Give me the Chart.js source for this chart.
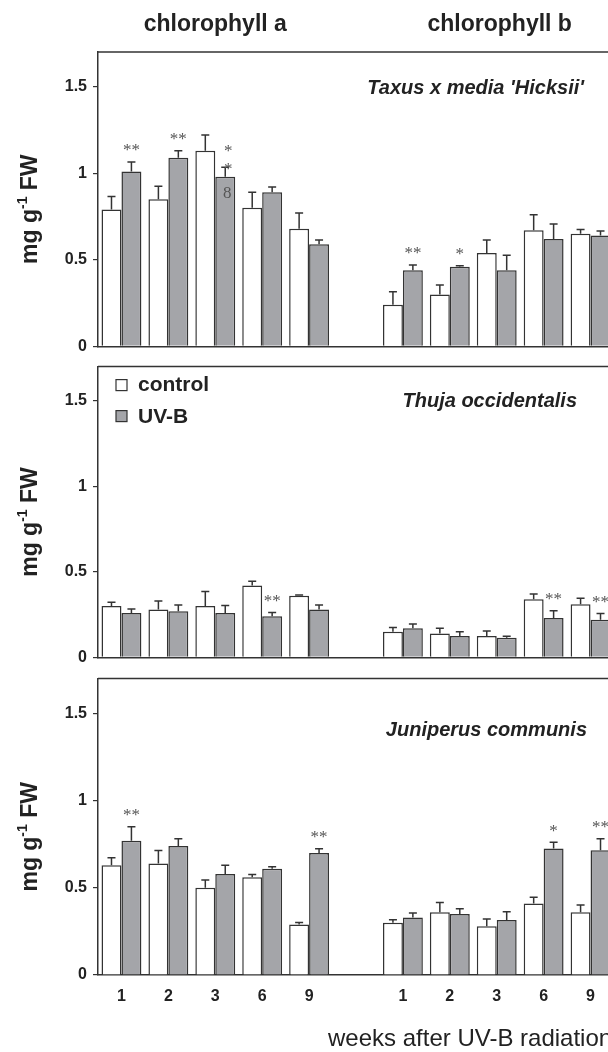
<!doctype html>
<html lang="en">
<head>
<meta charset="utf-8">
<title>Chlorophyll a and b after UV-B radiation</title>
<script src="https://cdn.jsdelivr.net/npm/chart.js"></script>
<style>
  html, body { margin: 0; padding: 0; background: #fff; }
  #wrap { position: relative; width: 608px; height: 1052px; overflow: hidden; }
  #wrap canvas { position: absolute; left: 0; }
</style>
</head>
<body>
<div id="wrap">
  <canvas id="taxus" width="614" height="362" style="top:0px"></canvas>
  <canvas id="thuja" width="614" height="322" style="top:351px"></canvas>
  <canvas id="juniperus" width="614" height="389" style="top:663px"></canvas>
</div>
<script>
// weeks: chlorophyll a group, empty slot, chlorophyll b group
const weeks = ['1', '2', '3', '6', '9', '', '1', '2', '3', '6', '9'];
const pigments = ['chlorophyll a', 'chlorophyll b'];

// values per species: chl a weeks 1,2,3,6,9 then chl b weeks 1,2,3,6,9
const taxusControl    = [0.79, 0.85, 1.13, 0.80, 0.68, 0.24, 0.30, 0.54, 0.67, 0.65];
const taxusControlErr = [0.075, 0.075, 0.09, 0.09, 0.09, 0.075, 0.055, 0.075, 0.09, 0.025];
const taxusUvb        = [1.01, 1.09, 0.98, 0.89, 0.59, 0.44, 0.46, 0.44, 0.62, 0.64];
const taxusUvbErr     = [0.055, 0.04, 0.055, 0.03, 0.025, 0.03, 0.006, 0.086, 0.087, 0.026];

const thujaControl    = [0.30, 0.28, 0.30, 0.42, 0.36, 0.15, 0.14, 0.125, 0.34, 0.31];
const thujaControlErr = [0.023, 0.05, 0.085, 0.025, 0.005, 0.025, 0.03, 0.03, 0.03, 0.036];
const thujaUvb        = [0.26, 0.27, 0.26, 0.24, 0.28, 0.17, 0.125, 0.115, 0.23, 0.22];
const thujaUvbErr     = [0.023, 0.037, 0.043, 0.023, 0.026, 0.025, 0.025, 0.009, 0.042, 0.036];

const juniperusControl    = [0.63, 0.64, 0.50, 0.56, 0.29, 0.30, 0.36, 0.28, 0.41, 0.36];
const juniperusControlErr = [0.043, 0.074, 0.045, 0.017, 0.011, 0.017, 0.056, 0.041, 0.036, 0.041];
const juniperusUvb        = [0.77, 0.74, 0.58, 0.61, 0.70, 0.33, 0.35, 0.315, 0.725, 0.715];
const juniperusUvbErr     = [0.081, 0.042, 0.049, 0.011, 0.024, 0.025, 0.03, 0.048, 0.036, 0.066];

// significance marks on the UV-B bars (index into the 10 values)
const taxusMarks     = [[0, '**'], [1, '**'], [2, 'odd'], [5, '**'], [6, '*']];
const thujaMarks     = [[3, '**'], [8, '**'], [9, '**']];
const juniperusMarks = [[0, '**'], [4, '**'], [8, '*'], [9, '**']];

const SANS = '"Liberation Sans", Arial, sans-serif';
const SERIF = '"Liberation Serif", "Times New Roman", serif';
const INK = '#222';
const LINE = '#333';
const GREY = '#a4a5a9';

function withGap(arr) {
  return [...arr.slice(0, 5), null, ...arr.slice(5)];
}

function makePanel(id, p) {
  const decor = {
    id: 'decor',
    afterDatasetsDraw(chart) {
      const { ctx, chartArea: a } = chart;
      const ys = chart.scales.y;
      const xs = chart.scales.x;

      // error bars (upper whisker only)
      chart.data.datasets.forEach((ds, di) => {
        chart.getDatasetMeta(di).data.forEach((bar, i) => {
          const v = ds.data[i], e = ds.errors[i];
          if (v == null || e == null) return;
          const top = ys.getPixelForValue(v + e);
          ctx.save();
          ctx.strokeStyle = LINE;
          ctx.lineWidth = 1.5;
          ctx.beginPath();
          ctx.moveTo(bar.x, bar.y);
          ctx.lineTo(bar.x, top);
          ctx.moveTo(bar.x - 4, top);
          ctx.lineTo(bar.x + 4, top);
          ctx.stroke();
          ctx.restore();
        });
      });

      // frame top line
      ctx.save();
      ctx.strokeStyle = LINE;
      ctx.lineWidth = 1.5;
      ctx.beginPath();
      ctx.moveTo(a.left, a.top);
      ctx.lineTo(a.right + 2, a.top);
      ctx.stroke();
      ctx.restore();

      // significance marks
      const uvMeta = chart.getDatasetMeta(1);
      ctx.save();
      ctx.fillStyle = '#555';
      ctx.textAlign = 'center';
      ctx.textBaseline = 'middle';
      p.marks.forEach(([i, t]) => {
        const k = i < 5 ? i : i + 1;
        const bar = uvMeta.data[k];
        const cap = ys.getPixelForValue(p.uvb[i] + p.uvbErr[i]);
        ctx.font = '17px ' + SERIF;
        if (t === 'odd') {
          ctx.fillText('*', bar.x + 3, cap - 16);
          ctx.fillText('*', bar.x + 3, cap + 2);
          ctx.fillText('8', bar.x + 2, cap + 26);
        } else {
          ctx.fillText(t, bar.x, cap - 11);
        }
      });
      ctx.restore();

      // species name
      ctx.save();
      ctx.fillStyle = INK;
      ctx.font = 'italic bold 20px ' + SANS;
      ctx.textAlign = 'right';
      ctx.textBaseline = 'middle';
      ctx.fillText(p.name, p.nameRight, a.top + p.nameDy);
      ctx.restore();

      // y axis title: mg g-1 FW
      ctx.save();
      ctx.translate(37, (a.top + a.bottom) / 2 + 10);
      ctx.rotate(-Math.PI / 2);
      ctx.fillStyle = INK;
      ctx.textBaseline = 'alphabetic';
      ctx.textAlign = 'left';
      const parts = [['mg g', 23, 0], ['-1', 14, -10], [' FW', 23, 0]];
      let total = 0;
      parts.forEach(([s, f]) => { ctx.font = 'bold ' + f + 'px ' + SANS; total += ctx.measureText(s).width; });
      let x = -total / 2;
      parts.forEach(([s, f, dy]) => {
        ctx.font = 'bold ' + f + 'px ' + SANS;
        ctx.fillText(s, x, dy);
        x += ctx.measureText(s).width;
      });
      ctx.restore();

      // column titles
      if (p.titles) {
        ctx.save();
        ctx.fillStyle = INK;
        ctx.font = 'bold 23px ' + SANS;
        ctx.textAlign = 'center';
        ctx.textBaseline = 'middle';
        ctx.fillText(pigments[0], xs.getPixelForValue(2), 25);
        ctx.fillText(pigments[1], xs.getPixelForValue(8) + 3, 25);
        ctx.restore();
      }

      // legend
      if (p.legend) {
        ctx.save();
        ctx.lineWidth = 1.2;
        ctx.strokeStyle = LINE;
        ctx.fillStyle = '#fff';
        ctx.fillRect(a.left + 18, a.top + 13, 11, 11);
        ctx.strokeRect(a.left + 18, a.top + 13, 11, 11);
        ctx.fillStyle = GREY;
        ctx.fillRect(a.left + 18, a.top + 44, 11, 11);
        ctx.strokeRect(a.left + 18, a.top + 44, 11, 11);
        ctx.fillStyle = INK;
        ctx.font = 'bold 21px ' + SANS;
        ctx.textBaseline = 'middle';
        ctx.fillText('control', a.left + 40, a.top + 19);
        ctx.fillText('UV-B', a.left + 40, a.top + 51);
        ctx.restore();
      }

      // x axis title
      if (p.xTitle) {
        ctx.save();
        ctx.fillStyle = INK;
        ctx.font = '24px ' + SANS;
        ctx.textBaseline = 'middle';
        ctx.fillText('weeks after UV-B radiation', 328, a.bottom + 64);
        ctx.restore();
      }
    }
  };

  return new Chart(document.getElementById(id), {
    type: 'bar',
    data: {
      labels: weeks,
      datasets: [
        {
          label: 'control',
          data: withGap(p.control),
          errors: withGap(p.controlErr),
          backgroundColor: '#fff',
          borderColor: LINE,
          borderWidth: 1.5
        },
        {
          label: 'UV-B',
          data: withGap(p.uvb),
          errors: withGap(p.uvbErr),
          backgroundColor: GREY,
          borderColor: LINE,
          borderWidth: 1.5
        }
      ]
    },
    options: {
      responsive: false,
      animation: false,
      layout: { padding: { top: p.padTop, left: 0, right: 0, bottom: 0 } },
      datasets: { bar: { categoryPercentage: 0.85, barPercentage: 1.0 } },
      plugins: { legend: { display: false }, tooltip: { enabled: false } },
      scales: {
        x: {
          afterFit(s) { s.height = p.xHeight; },
          grid: { display: true, drawOnChartArea: false, drawTicks: false },
          border: { display: true, color: LINE, width: 1.5 },
          ticks: {
            display: !!p.xTitle,
            autoSkip: false,
            maxRotation: 0,
            padding: 12,
            color: INK,
            font: { family: SANS, size: 16, weight: 'bold' }
          }
        },
        y: {
          min: 0,
          max: 1.7,
          afterFit(s) { s.width = 98; },
          grid: { display: true, drawOnChartArea: false, drawTicks: true, tickLength: 5, color: LINE, lineWidth: 1.2 },
          border: { display: true, color: LINE, width: 1.5 },
          ticks: {
            stepSize: 0.5,
            includeBounds: false,
            padding: 6,
            color: INK,
            font: { family: SANS, size: 16, weight: 'bold' },
            callback: v => String(v)
          }
        }
      }
    },
    plugins: [decor]
  });
}

makePanel('taxus', {
  control: taxusControl, controlErr: taxusControlErr,
  uvb: taxusUvb, uvbErr: taxusUvbErr, marks: taxusMarks,
  name: "Taxus x media 'Hicksii'", nameRight: 584, nameDy: 36,
  padTop: 52, xHeight: 12, titles: true
});

makePanel('thuja', {
  control: thujaControl, controlErr: thujaControlErr,
  uvb: thujaUvb, uvbErr: thujaUvbErr, marks: thujaMarks,
  name: 'Thuja occidentalis', nameRight: 577, nameDy: 35,
  padTop: 14, xHeight: 12, legend: true
});

makePanel('juniperus', {
  control: juniperusControl, controlErr: juniperusControlErr,
  uvb: juniperusUvb, uvbErr: juniperusUvbErr, marks: juniperusMarks,
  name: 'Juniperus communis', nameRight: 587, nameDy: 52,
  padTop: 14, xHeight: 77, xTitle: true
});
</script>
</body>
</html>
